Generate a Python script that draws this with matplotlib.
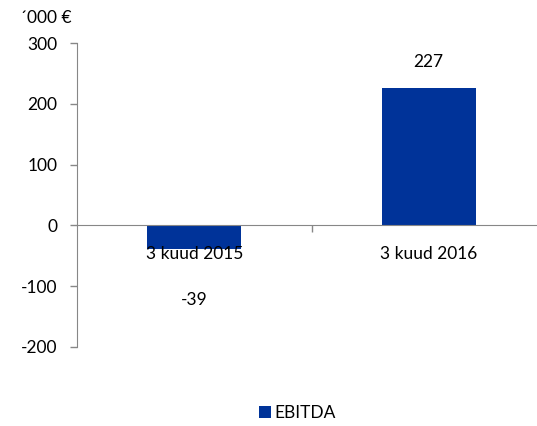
import matplotlib.pyplot as plt
import numpy as np

plt.rcParams['font.family'] = ['Lato', 'DejaVu Sans']

categories = ['3 kuud 2015', '3 kuud 2016']
ebitda = [-39, 227]
yticks = [-200, -100, 0, 100, 200, 300]

bar_color = '#003399'
axis_color = '#878787'

fig = plt.figure(figsize=(5.37, 4.26), dpi=100)
W, H = 537, 426
# axes box in pixels: left 77, right 546 (runs past the figure edge), top 43.3, bottom 346.8
ax = fig.add_axes([77 / W, (H - 346.8) / H, (546 - 77) / W, (346.8 - 43.3) / H])

x = np.arange(len(categories))
bars = ax.bar(x, ebitda, width=0.40, color=bar_color, zorder=1)

ax.set_xlim(-0.5, 1.5)
ax.set_ylim(-200, 300)
ax.set_yticks(yticks)
ax.set_yticklabels([str(v) for v in yticks])

ax.set_xticks(x)
ax.set_xticklabels(categories)
ax.set_xticks([0.5], minor=True)
ax.tick_params(axis='x', which='major', length=0, pad=15, labelsize=12.5)
ax.tick_params(axis='x', which='minor', length=5, width=1, color=axis_color, direction='out')
ax.tick_params(axis='y', length=5, width=1, color=axis_color, pad=9, labelsize=12.5)
ax.xaxis.set_zorder(5)

for s in ['top', 'right']:
    ax.spines[s].set_visible(False)
ax.spines['bottom'].set_position(('data', 0))
ax.spines['bottom'].set_color(axis_color)
ax.spines['left'].set_color(axis_color)
ax.spines['bottom'].set_zorder(3)

# value labels
for xi, v in zip(x, ebitda):
    off = 18.4 if v >= 0 else -36.7
    ax.annotate(str(v), (xi, v), xytext=(0, off), textcoords='offset points',
                ha='center', va='center', fontsize=12.5)

fig.text(20 / W, 1 - 18 / H, '´000 €', ha='left', va='center', fontsize=12.5)

leg = fig.legend([bars], ['EBITDA'], loc='center', bbox_to_anchor=(297 / W, 1 - 413 / H),
                 frameon=False, fontsize=12.5, handlelength=0.7, handleheight=0.7,
                 handletextpad=0.2)

fig.savefig('out.png', dpi=100)
